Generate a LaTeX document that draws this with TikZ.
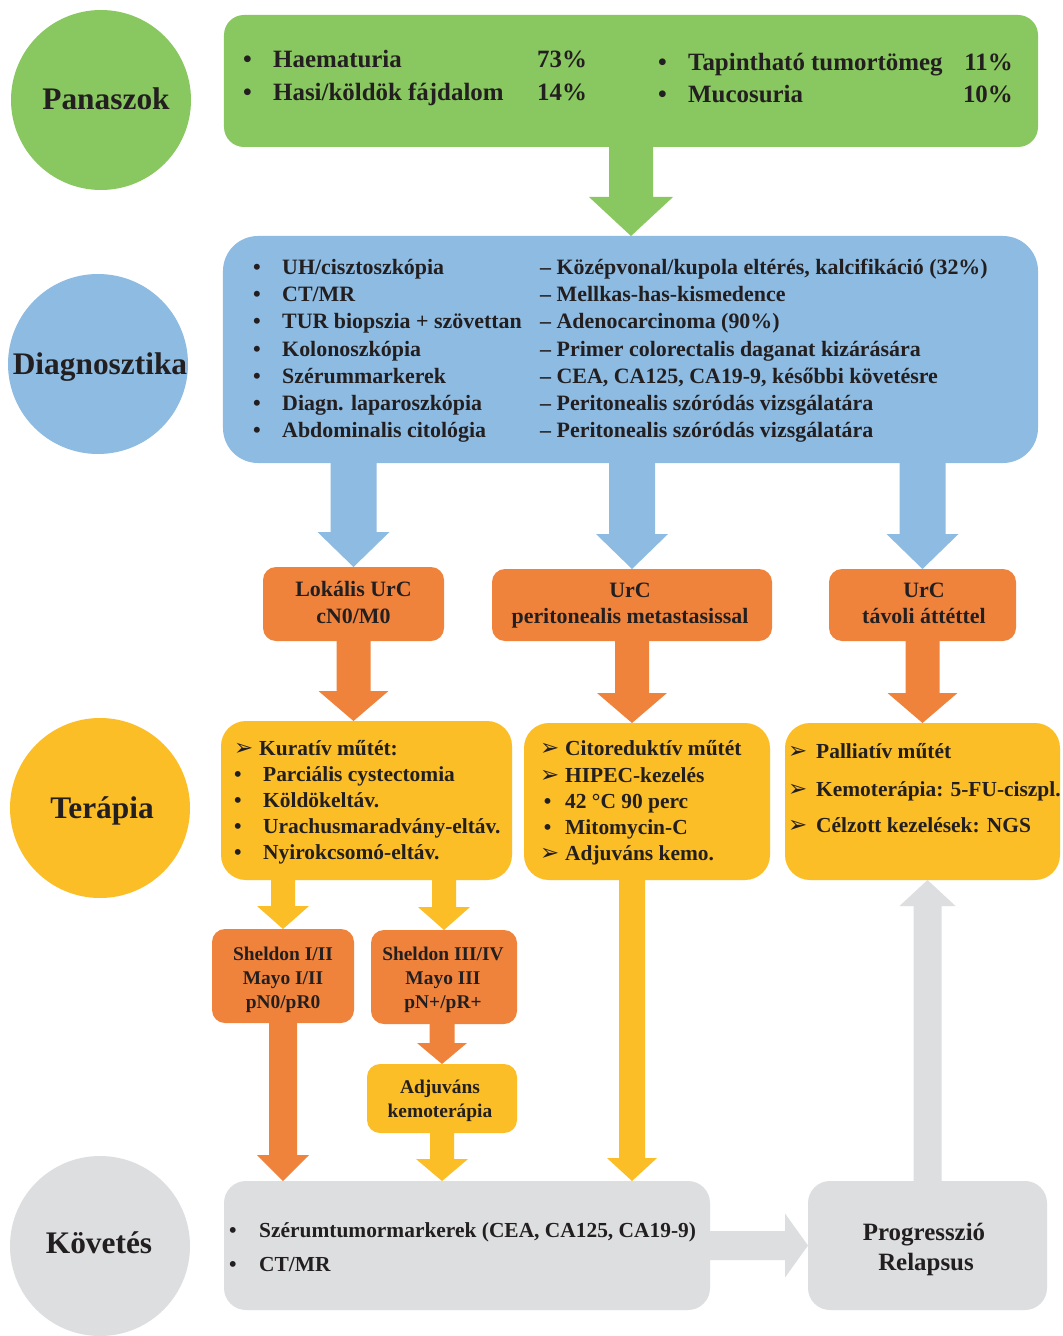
\documentclass[tikz,border=0pt]{standalone}
\usepackage{fontspec}
\setmainfont{Liberation Serif}
\newfontfamily\djv{DejaVu Sans}
\usetikzlibrary{calc}
\definecolor{cgreen}{HTML}{89C760}
\definecolor{cblue}{HTML}{8DBBE2}
\definecolor{corange}{HTML}{F0833C}
\definecolor{cyellow}{HTML}{FBBE26}
\definecolor{cgray}{HTML}{DDDEE0}
\definecolor{ctext}{HTML}{231F20}
\newcommand\arr{{\djv\bfseries\fontsize{23}{23}\selectfont\raisebox{-0.5bp}{➢}}}
\newcommand\fs[1]{\fontsize{#1}{#1}\selectfont}
% vertical block arrow: style, x-ref, start-ref, tip-ref, shaft half, head half, head length
\newcommand\darrow[7]{%
  \fill[#1] let \p1=(#2), \p2=(#3), \p3=(#4) in
  (\x1-#5,\y2) -- (\x1+#5,\y2) -- (\x1+#5,\y3+#7) -- (\x1+#6,\y3+#7) -- (\x1,\y3)
  -- (\x1-#6,\y3+#7) -- (\x1-#5,\y3+#7) -- cycle;}
\newcommand\uarrow[7]{%
  \fill[#1] let \p1=(#2), \p2=(#3), \p3=(#4) in
  (\x1-#5,\y2) -- (\x1+#5,\y2) -- (\x1+#5,\y3-#7) -- (\x1+#6,\y3-#7) -- (\x1,\y3)
  -- (\x1-#6,\y3-#7) -- (\x1-#5,\y3-#7) -- cycle;}
\newcommand\rarrow[7]{%
  \fill[#1] let \p1=(#2), \p2=(#3), \p3=(#4) in
  (\x2,\y1-#5) -- (\x2,\y1+#5) -- (\x3-#7,\y1+#5) -- (\x3-#7,\y1+#6) -- (\x3,\y1)
  -- (\x3-#7,\y1-#6) -- (\x3-#7,\y1-#5) -- cycle;}
\begin{document}
\begin{tikzpicture}[x=1bp,y=-1bp,
  box/.style={draw=none, inner sep=0pt, outer sep=0pt},
  circ/.style={circle, draw=none, inner sep=0pt, minimum size=180bp},
  txt/.style={anchor=base west, inner sep=0pt, text=ctext},
  ctr/.style={anchor=base, inner sep=0pt, text=ctext, align=center},
  rtxt/.style={anchor=base east, inner sep=0pt, text=ctext}]
\useasboundingbox (0,0) rectangle (1062,1336);
\fill[white] (0,0) rectangle (1062,1336);

% circles
\node[circ, fill=cgreen] (c1) at (101,100) {};
\node[circ, fill=cblue] (c2) at (98,364) {};
\node[circ, fill=cyellow] (c3) at (100,808) {};
\node[circ, fill=cgray] (c4) at (100,1246) {};
\begin{scope}[every node/.append style={font=\bfseries\fs{31.5}}]
\node[ctr] (t1) at (106,110) {Panaszok};
\node[ctr] (t2) at (100,374) {Diagnosztika};
\node[ctr] (t3) at (102,818) {Terápia};
\node[ctr] (t4) at (99,1253) {Követés};
\end{scope}

% boxes
\node[box, fill=cgreen, rounded corners=20bp, minimum width=814bp, minimum height=132bp] (sym) at (631,81) {};
\node[box, fill=cblue, rounded corners=35bp, minimum width=815bp, minimum height=227bp] (diag) at (630.5,349.5) {};
\node[box, fill=corange, rounded corners=13bp, minimum width=181bp, minimum height=74bp] (o1) at (353.5,604) {};
\node[box, fill=corange, rounded corners=13bp, minimum width=280bp, minimum height=72bp] (o2) at (632,605) {};
\node[box, fill=corange, rounded corners=13bp, minimum width=187bp, minimum height=72bp] (o3) at (922.5,605) {};
\node[box, fill=cyellow, rounded corners=25bp, minimum width=291bp, minimum height=159bp] (y1) at (366.5,800.5) {};
\node[box, fill=cyellow, rounded corners=25bp, minimum width=246bp, minimum height=157bp] (y2) at (647,801.5) {};
\node[box, fill=cyellow, rounded corners=25bp, minimum width=275bp, minimum height=157bp] (y3) at (922.5,801.5) {};
\node[box, fill=corange, rounded corners=13bp, minimum width=142bp, minimum height=94bp] (s1) at (283,976) {};
\node[box, fill=corange, rounded corners=13bp, minimum width=146bp, minimum height=94bp] (s2) at (444,977) {};
\node[box, fill=cyellow, rounded corners=13bp, minimum width=150bp, minimum height=69bp] (adj) at (442,1098.5) {};
\node[box, fill=cgray, rounded corners=22bp, minimum width=486bp, minimum height=129bp] (fol) at (467,1245.5) {};
\node[box, fill=cgray, rounded corners=22bp, minimum width=239bp, minimum height=129bp] (prog) at (927.5,1245.5) {};

% arrows
\darrow{cgreen}{sym.south}{sym.south}{diag.north}{22bp}{42bp}{39bp}
\darrow{cblue}{o1.north}{diag.south}{o1.north}{23bp}{36bp}{35bp}
\darrow{cblue}{o2.north}{diag.south}{o2.north}{23bp}{36bp}{35bp}
\darrow{cblue}{o3.north}{diag.south}{o3.north}{23bp}{36bp}{35bp}
\darrow{corange}{o1.south}{o1.south}{y1.north-|o1.south}{17bp}{35bp}{30bp}
\darrow{corange}{o2.south}{o2.south}{y2.north-|o2.south}{17bp}{35bp}{30bp}
\darrow{corange}{o3.south}{o3.south}{y3.north-|o3.south}{17bp}{35bp}{30bp}
\darrow{cyellow}{s1.north}{y1.south}{s1.north}{12bp}{26bp}{23bp}
\darrow{cyellow}{s2.north}{y1.south}{s2.north}{12bp}{26bp}{23bp}
\darrow{corange}{s1.south}{s1.south}{fol.north}{14bp}{26bp}{26bp}
\darrow{corange}{adj.north}{s2.south}{adj.north}{12.5bp}{25bp}{21bp}
\darrow{cyellow}{adj.south}{adj.south}{fol.north}{12bp}{26bp}{22bp}
\darrow{cyellow}{o2.south}{y2.south}{fol.north}{13bp}{25bp}{23bp}
\rarrow{cgray}{fol.center}{fol.east}{prog.west}{14.5bp}{32bp}{23bp}
\uarrow{cgray}{prog.north}{prog.north}{y3.south}{14bp}{28bp}{26bp}

% green text
\begin{scope}[every node/.append style={font=\bfseries\fs{25}}]
\node[txt] (g1) at (243,68) {\makebox[30bp][l]{•}Haematuria};
\node[txt] (g2) at (243,101) {\makebox[30bp][l]{•}Hasi/köldök fájdalom};
\node[txt] (g3) at (537,68) {73\%};
\node[txt] (g4) at (537,101) {14\%};
\node[txt] (g5) at (658,71) {\makebox[30bp][l]{•}Tapintható tumortömeg};
\node[txt] (g6) at (658,103) {\makebox[30bp][l]{•}Mucosuria};
\node[rtxt] (g7) at (1013,71) {11\%};
\node[rtxt] (g8) at (1013,103) {10\%};
\end{scope}

% blue text
\begin{scope}[every node/.append style={font=\bfseries\fs{22}}]
\node[txt] (d1) at (253,275) {\makebox[29bp][l]{•}UH/cisztoszkópia};
\node[txt] (d2) at (253,302) {\makebox[29bp][l]{•}CT/MR};
\node[txt] (d3) at (253,329) {\makebox[29bp][l]{•}TUR biopszia + szövettan};
\node[txt] (d4) at (253,356) {\makebox[29bp][l]{•}Kolonoszkópia};
\node[txt] (d5) at (253,383) {\makebox[29bp][l]{•}Szérummarkerek};
\node[txt] (d6) at (253,410) {\makebox[29bp][l]{•}Diagn. laparoszkópia};
\node[txt] (d7) at (253,437) {\makebox[29bp][l]{•}Abdominalis citológia};
\node[txt] (e1) at (540,275) {– Középvonal/kupola eltérés, kalcifikáció (32\%)};
\node[txt] (e2) at (540,302) {– Mellkas-has-kismedence};
\node[txt] (e3) at (540,329) {– Adenocarcinoma (90\%)};
\node[txt] (e4) at (540,356) {– Primer colorectalis daganat kizárására};
\node[txt] (e5) at (540,383) {– CEA, CA125, CA19-9, későbbi követésre};
\node[txt] (e6) at (540,410) {– Peritonealis szóródás vizsgálatára};
\node[txt] (e7) at (540,437) {– Peritonealis szóródás vizsgálatára};
\end{scope}

% orange text
\begin{scope}[every node/.append style={font=\bfseries\fs{22}}]
\node[ctr] (ot1) at (353.5,596) {Lokális UrC};
\node[ctr] (ot2) at (353.5,623) {cN0/M0};
\node[ctr] (ot3) at (630,597) {UrC};
\node[ctr] (ot4) at (630,623) {peritonealis metastasissal};
\node[ctr] (ot5) at (924,597) {UrC};
\node[ctr] (ot6) at (924,623) {távoli áttéttel};
\end{scope}

% yellow text
\begin{scope}[every node/.append style={font=\bfseries\fs{21.5}}]
\node[txt] (ya1) at (234,755) {\makebox[25bp][l]{\arr}Kuratív műtét:};
\node[txt] (ya2) at (234,781) {\makebox[29bp][l]{•}Parciális cystectomia};
\node[txt] (ya3) at (234,807) {\makebox[29bp][l]{•}Köldökeltáv.};
\node[txt] (ya4) at (234,833) {\makebox[29bp][l]{•}Urachusmaradvány-eltáv.};
\node[txt] (ya5) at (234,859) {\makebox[29bp][l]{•}Nyirokcsomó-eltáv.};
\node[txt] (yb1) at (540,755) {\makebox[25bp][l]{\arr}Citoreduktív műtét};
\node[txt] (yb2) at (540,782) {\makebox[25bp][l]{\arr}HIPEC-kezelés};
\node[txt] (yb3) at (540,808) {\makebox[25bp][l]{\,•}42 °C 90 perc};
\node[txt] (yb4) at (540,834) {\makebox[25bp][l]{\,•}Mitomycin-C};
\node[txt] (yb5) at (540,860) {\makebox[25bp][l]{\arr}Adjuváns kemo.};
\node[txt] (yc1) at (788,758) {\makebox[28bp][l]{\arr}Palliatív műtét};
\node[txt] (yc2) at (788,796) {\makebox[28bp][l]{\arr}Kemoterápia: 5-FU-ciszpl.};
\node[txt] (yc3) at (788,832) {\makebox[28bp][l]{\arr}Célzott kezelések: NGS};
\end{scope}

% small boxes text
\begin{scope}[every node/.append style={font=\bfseries\fs{19.5}}]
\node[ctr] (st1) at (283,960) {Sheldon I/II};
\node[ctr] (st2) at (283,984) {Mayo I/II};
\node[ctr] (st3) at (283,1008) {pN0/pR0};
\node[ctr] (st4) at (443,960) {Sheldon III/IV};
\node[ctr] (st5) at (443,984) {Mayo III};
\node[ctr] (st6) at (443,1008) {pN+/pR+};
\node[ctr] (at1) at (440,1093) {Adjuváns};
\node[ctr] (at2) at (440,1117) {kemoterápia};
\end{scope}

% follow-up text
\begin{scope}[every node/.append style={font=\bfseries\fs{21.5}}]
\node[txt] (f1) at (229,1237) {\makebox[30bp][l]{•}Szérumtumormarkerek (CEA, CA125, CA19-9)};
\node[txt] (f2) at (229,1271) {\makebox[30bp][l]{•}CT/MR};
\end{scope}
\begin{scope}[every node/.append style={font=\bfseries\fs{25}}]
\node[ctr] (p1) at (924,1240) {Progresszió};
\node[ctr] (p2) at (926,1270) {Relapsus};
\end{scope}
\end{tikzpicture}
\end{document}
